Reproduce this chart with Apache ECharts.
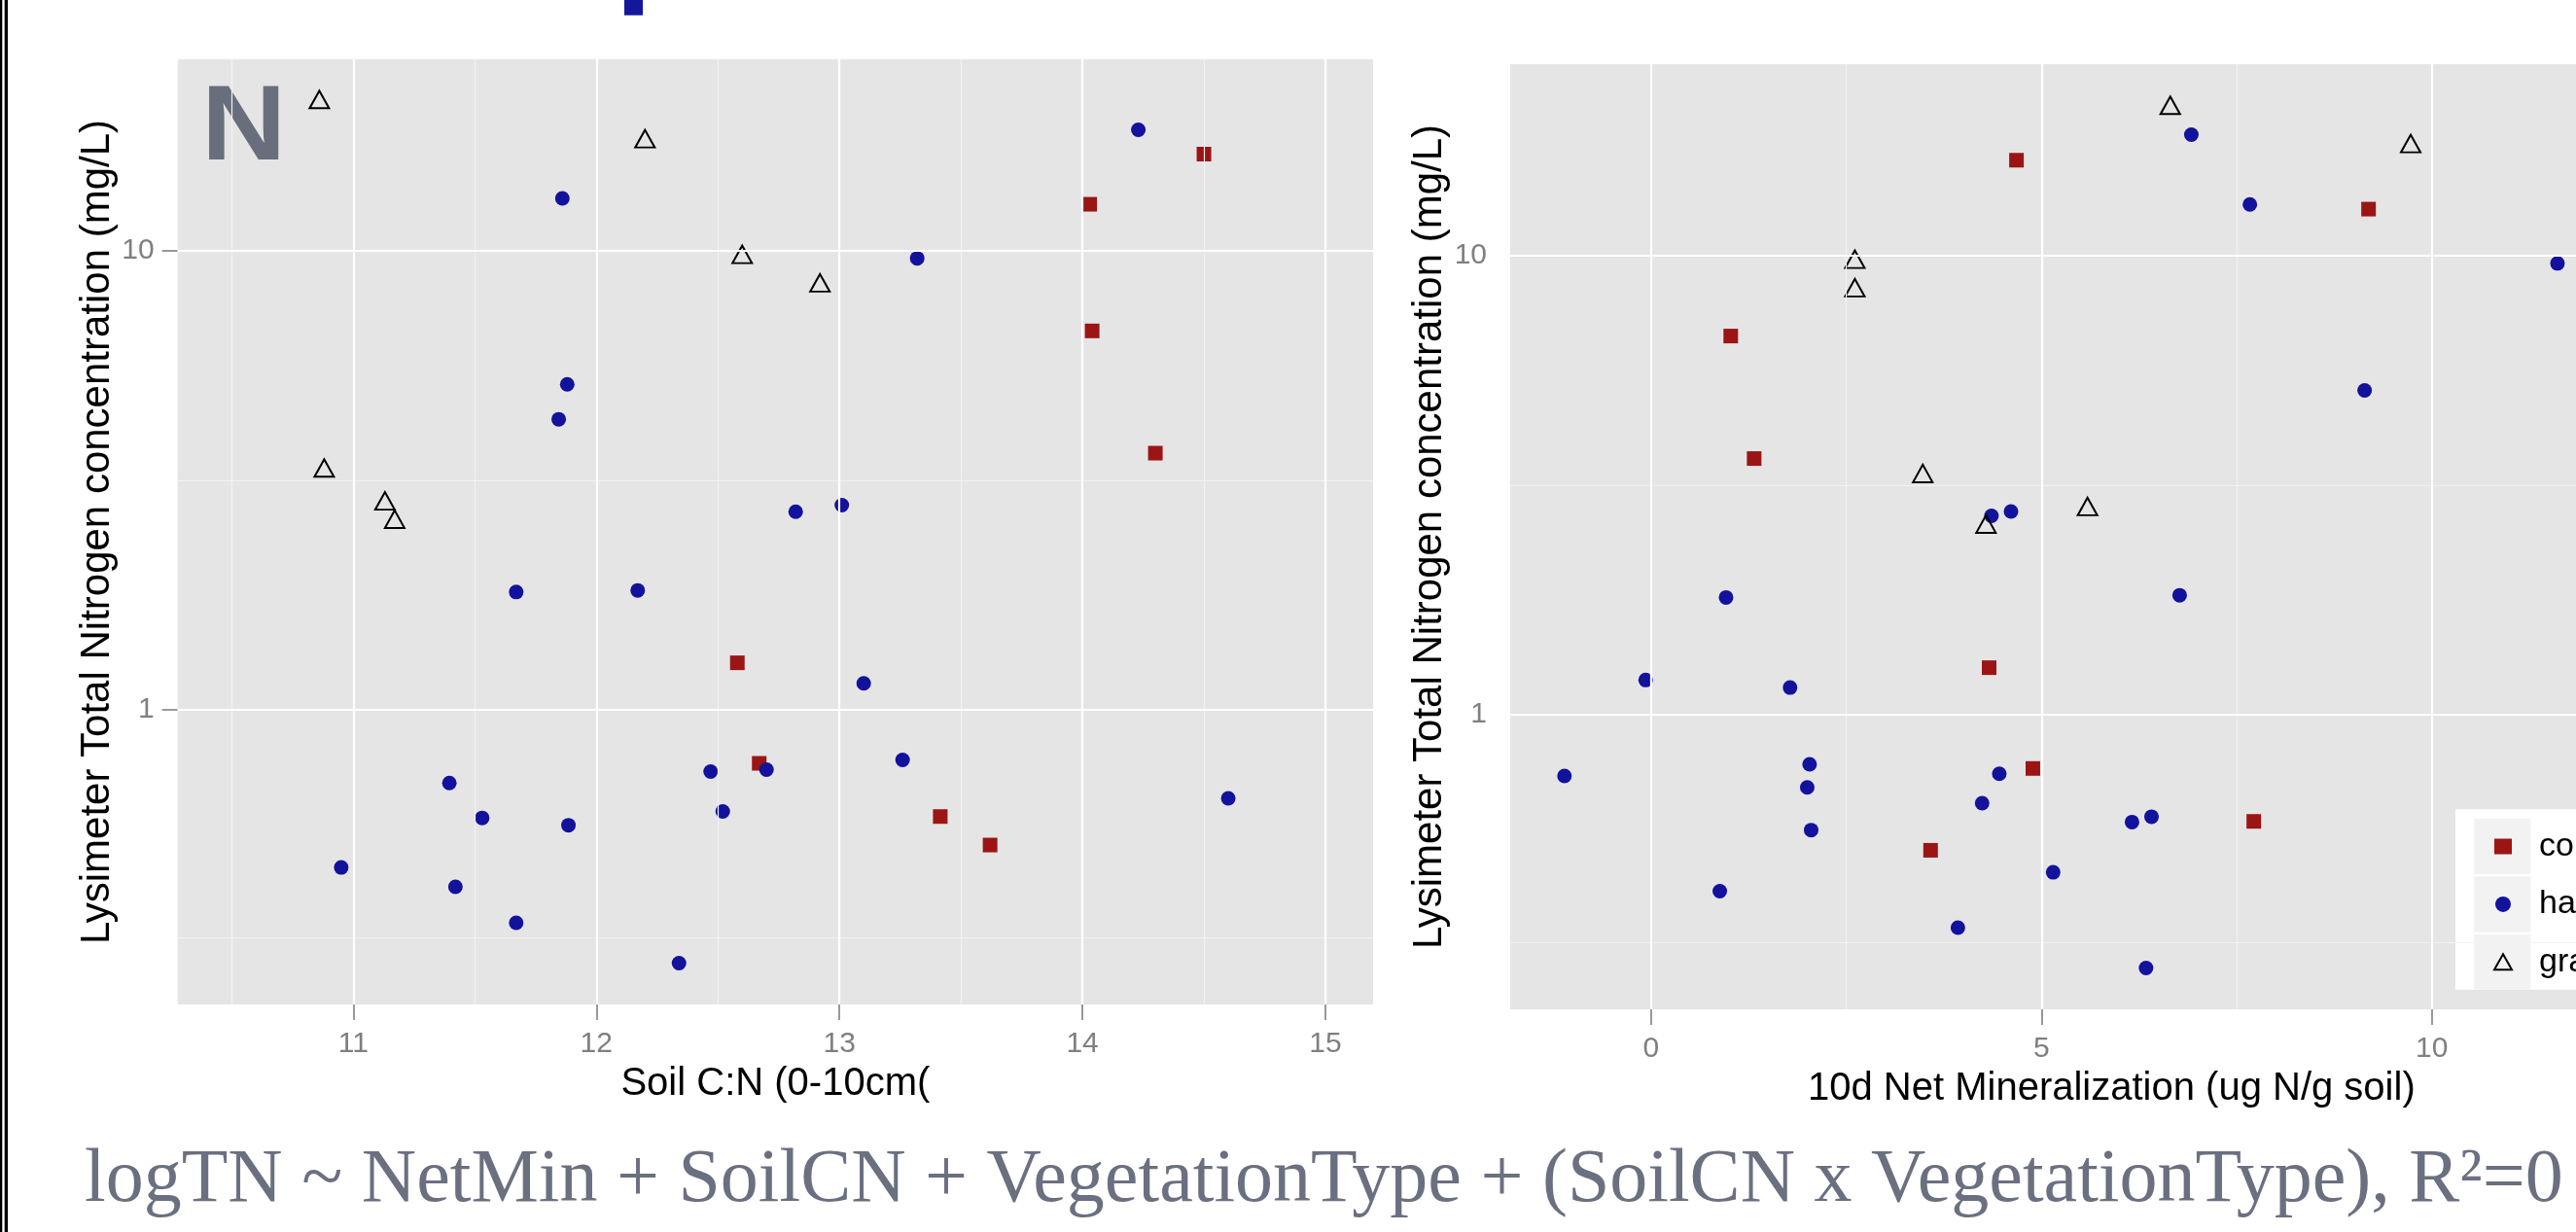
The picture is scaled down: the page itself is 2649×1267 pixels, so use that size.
<!DOCTYPE html>
<html>
<head>
<meta charset="utf-8">
<script src="https://cdn.jsdelivr.net/npm/echarts@6/dist/echarts.min.js"></script>
<style>
html,body{margin:0;padding:0;background:#fff;}
#c{width:2649px;height:1267px;}
</style>
</head>
<body>
<div id="c"></div>
<script>
// ---------------- data ----------------
const vegetationTypes = ['conifer', 'hardwood', 'grassland'];

// Left panel: [Soil C:N, Total N (mg/L)]
const soilCN_conifer = [[14.50,16.2],[14.03,12.6],[14.04,6.68],[14.30,3.62],[12.58,1.266],[12.67,0.765],[13.415,0.586],[13.62,0.508]];
const soilCN_hardwood = [[14.23,18.3],[11.86,12.98],[13.32,9.61],[11.88,5.11],[11.845,4.29],[12.82,2.70],[13.01,2.79],[11.67,1.805],[12.17,1.82],[13.10,1.142],[12.70,0.741],[12.47,0.734],[13.26,0.778],[11.395,0.693],[11.53,0.582],[11.885,0.561],[12.52,0.601],[14.60,0.642],[10.95,0.454],[11.42,0.412],[11.67,0.344],[12.34,0.281]];
const soilCN_grassland = [[10.86,21.3],[12.20,17.5],[12.60,9.8],[12.92,8.5],[10.88,3.36],[11.13,2.85],[11.17,2.60]];

// Right panel: [10d Net Mineralization, Total N (mg/L)]
const netMin_conifer = [[4.68,16.1],[9.19,12.6],[1.02,6.67],[1.32,3.61],[4.33,1.266],[4.89,0.764],[7.72,0.586],[3.58,0.507]];
const netMin_hardwood = [[6.92,18.3],[7.67,12.9],[11.61,9.6],[9.14,5.08],[4.36,2.71],[4.61,2.77],[0.96,1.80],[6.77,1.82],[-0.07,1.19],[1.78,1.146],[2.03,0.780],[4.46,0.744],[-1.11,0.736],[2.00,0.695],[4.24,0.642],[6.16,0.584],[6.41,0.600],[2.05,0.561],[5.15,0.454],[0.88,0.413],[3.93,0.344],[6.34,0.281]];
const netMin_grassland = [[6.65,21.2],[9.73,17.5],[2.61,9.8],[2.61,8.5],[3.48,3.35],[5.59,2.84],[4.29,2.60]];

// ticks / gridlines
const soilCNTicks = [11, 12, 13, 14, 15];
const soilCNMinor = [10.5, 11.5, 12.5, 13.5, 14.5];
const netMinTicks = [0, 5, 10];
const netMinMinor = [2.5, 7.5, 12.5];
const tnTicks = [1, 10];
const tnMinor = [0.31623, 3.1623];

const yTitle = 'Lysimeter Total Nitrogen concentration (mg/L)';
const xTitleLeft = 'Soil C:N (0-10cm(';
const xTitleRight = '10d Net Mineralization (ug N/g soil)';
const formulaText = 'logTN ~ NetMin + SoilCN + VegetationType + (SoilCN x VegetationType), R\u00B2=0';
const panelLetter = 'N';

// ---------------- styles ----------------
const FONT = 'Liberation Sans';
const GREY = '#7f7f7f';
const COLORS = { conifer: '#9B1515', hardwood: '#12129C', grassland: '#000000' };

function xAxisCfg(grid, min, max, ticks, name) {
  return {
    gridIndex: grid, type: 'value', min: min, max: max,
    name: name, nameLocation: 'middle', nameGap: 62,
    nameTextStyle: { fontFamily: FONT, fontSize: 40, color: '#000' },
    axisLine: { show: false },
    axisTick: { show: true, length: 16, lineStyle: { color: GREY, width: 1.6 }, customValues: ticks },
    axisLabel: { customValues: ticks, fontFamily: FONT, fontSize: 30, color: GREY, margin: 26 },
    splitLine: { show: false }
  };
}
function yAxisCfg(grid, ticks) {
  return {
    gridIndex: grid, type: 'log', logBase: 10, min: 0.2285, max: 26.05,
    name: yTitle, nameLocation: 'middle', nameGap: 61,
    nameTextStyle: { fontFamily: FONT, fontSize: 42, color: '#000' },
    axisLine: { show: false },
    axisTick: { show: true, length: 16, lineStyle: { color: GREY, width: 1.6 }, customValues: ticks },
    axisLabel: { customValues: ticks, fontFamily: FONT, fontSize: 30, color: GREY, margin: 24 },
    splitLine: { show: false }
  };
}
function gridLines(grid, xMajor, xMinor, yMajor, yMinor) {
  const minorStyle = { color: '#F2F2F2', width: 1.2, type: 'solid' };
  const majorStyle = { color: '#FFFFFF', width: 2.2, type: 'solid' };
  const d = [];
  xMinor.forEach(v => d.push({ xAxis: v, lineStyle: minorStyle }));
  yMinor.forEach(v => d.push({ yAxis: v, lineStyle: minorStyle }));
  xMajor.forEach(v => d.push({ xAxis: v, lineStyle: majorStyle }));
  yMajor.forEach(v => d.push({ yAxis: v, lineStyle: majorStyle }));
  return {
    type: 'scatter', name: 'grid' + grid, xAxisIndex: grid, yAxisIndex: grid, data: [], z: 1, silent: true,
    markLine: { silent: true, animation: false, symbol: ['none', 'none'], label: { show: false },
      emphasis: { disabled: true }, data: d }
  };
}
function pointSeries(grid, type, data) {
  const base = { type: 'scatter', name: type, xAxisIndex: grid, yAxisIndex: grid, data: data, z: 3, emphasis: { disabled: true } };
  if (type === 'conifer') {
    base.symbol = 'rect'; base.symbolSize = 15;
    base.itemStyle = { color: COLORS.conifer, opacity: 1 };
  } else if (type === 'hardwood') {
    base.symbol = 'circle'; base.symbolSize = 15;
    base.itemStyle = { color: COLORS.hardwood, opacity: 1 };
  } else {
    base.symbol = 'triangle'; base.symbolSize = [20, 18];
    base.itemStyle = { color: 'rgba(0,0,0,0)', borderColor: '#000', borderWidth: 2, opacity: 1 };
  }
  return base;
}

const chart = echarts.init(document.getElementById('c'), null, { renderer: 'canvas', width: 2649, height: 1267 });
chart.setOption({
  animation: false,
  backgroundColor: '#ffffff',
  textStyle: { fontFamily: FONT },
  grid: [
    { left: 182.7, top: 61, width: 1229.3, height: 972, show: true, backgroundColor: '#E5E5E5', borderWidth: 0, containLabel: false, outerBoundsMode: 'none' },
    { left: 1553, top: 66, width: 1236.7, height: 972, show: true, backgroundColor: '#E5E5E5', borderWidth: 0, containLabel: false, outerBoundsMode: 'none' }
  ],
  xAxis: [
    xAxisCfg(0, 10.277, 15.196, soilCNTicks, xTitleLeft),
    xAxisCfg(1, -1.805, 13.6, netMinTicks, xTitleRight)
  ],
  yAxis: [ yAxisCfg(0, tnTicks), yAxisCfg(1, tnTicks) ],
  legend: {
    data: [ { name: 'conifer', icon: 'rect' }, { name: 'hardwood', icon: 'circle' }, { name: 'grassland', icon: 'triangle' } ],
    orient: 'vertical', left: 2564, top: 850.5, padding: 0, itemGap: 19.4,
    itemWidth: 18, itemHeight: 16, selectedMode: false, z: 10,
    textStyle: { fontFamily: FONT, fontSize: 34, lineHeight: 40, color: '#000', padding: [0, 0, 0, 23] }
  },
  graphic: [
    { type: 'rect', z: 5, shape: { x: 0, y: 0, width: 2.3, height: 1267 }, style: { fill: '#000' } },
    { type: 'rect', z: 5, shape: { x: 4.7, y: 0, width: 3.3, height: 1267 }, style: { fill: '#000' } },
    { type: 'rect', z: 5, shape: { x: 642, y: 0, width: 19, height: 15.7 }, style: { fill: '#14179B' } },
    { type: 'text', z: 5, x: 207, y: 134, scaleX: 1.1, style: { text: panelLetter, font: 'bold 110px "Liberation Sans"', fill: '#686E7C', verticalAlign: 'middle' } },
    { type: 'rect', z: 5, shape: { x: 2525, y: 832.3, width: 130, height: 185.4 }, style: { fill: '#ffffff' } },
    { type: 'rect', z: 6, shape: { x: 2544.3, y: 842, width: 58, height: 57 }, style: { fill: '#F2F2F2' } },
    { type: 'rect', z: 6, shape: { x: 2544.3, y: 901.3, width: 58, height: 57.4 }, style: { fill: '#F2F2F2' } },
    { type: 'rect', z: 6, shape: { x: 2544.3, y: 961, width: 58, height: 56.7 }, style: { fill: '#F2F2F2' } },
    { type: 'text', z: 5, x: 87, y: 1215, style: { text: formulaText, font: '78px "Liberation Serif"', fill: '#6B7080', verticalAlign: 'middle' } }
  ],
  series: [
    gridLines(0, soilCNTicks, soilCNMinor, tnTicks, tnMinor),
    gridLines(1, netMinTicks, netMinMinor, tnTicks, tnMinor),
    pointSeries(0, 'conifer', soilCN_conifer),
    pointSeries(0, 'hardwood', soilCN_hardwood),
    pointSeries(0, 'grassland', soilCN_grassland),
    pointSeries(1, 'conifer', netMin_conifer),
    pointSeries(1, 'hardwood', netMin_hardwood),
    pointSeries(1, 'grassland', netMin_grassland)
  ]
});
</script>
</body>
</html>
